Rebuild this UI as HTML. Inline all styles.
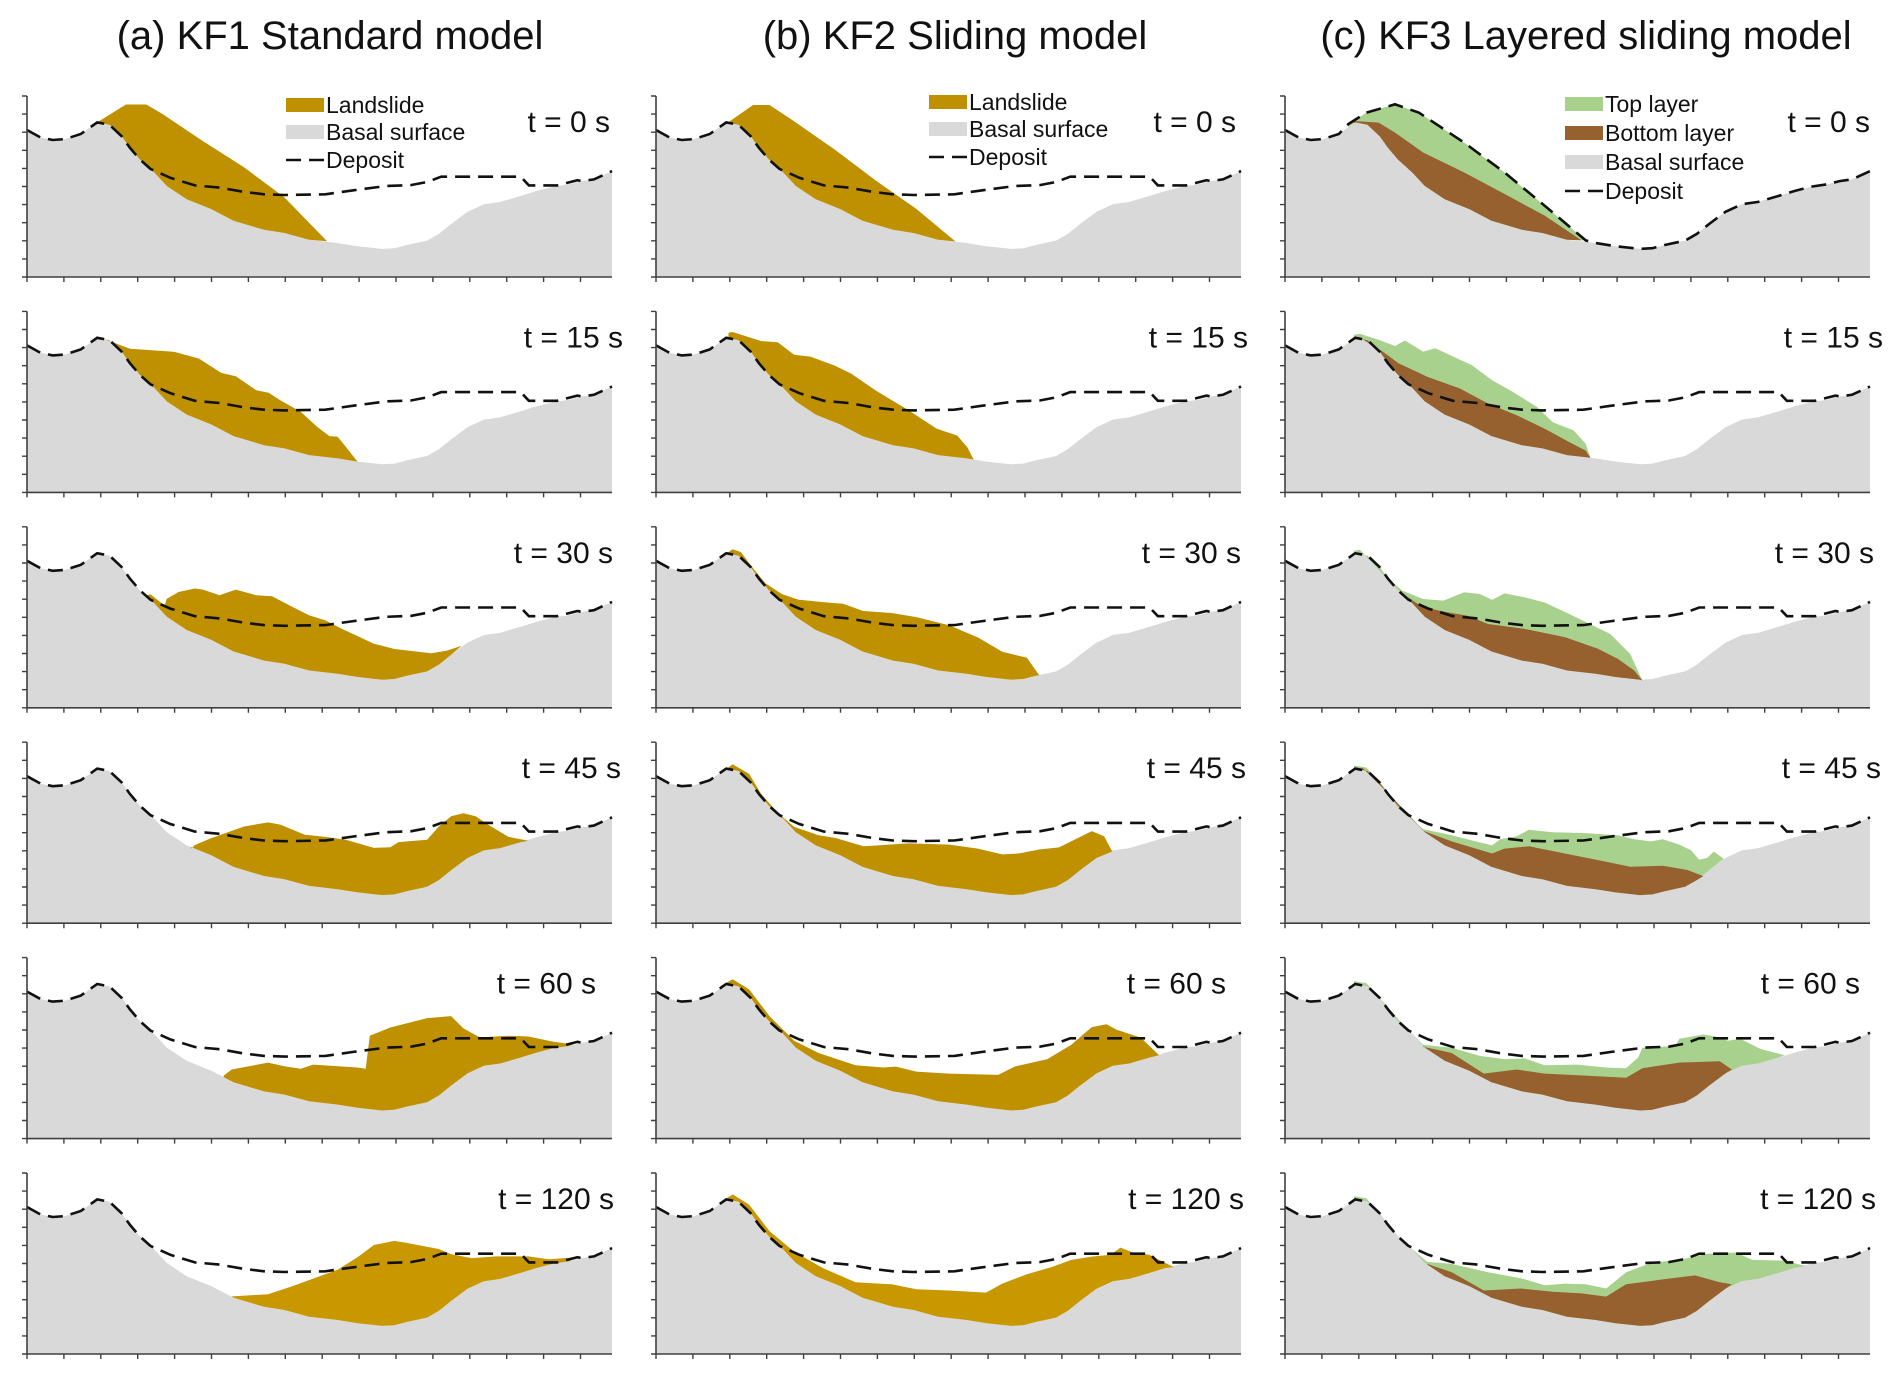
<!DOCTYPE html>
<html><head><meta charset="utf-8"><style>
body{margin:0;background:#fff;}
svg{display:block;font-family:"Liberation Sans",Arial,sans-serif;}
</style></head><body>
<svg id="fig" width="1892" height="1374" viewBox="0 0 1892 1374" xmlns="http://www.w3.org/2000/svg">
<text x="330" y="49" font-size="40" text-anchor="middle" fill="#111">(a) KF1 Standard model</text>
<text x="955" y="49" font-size="40" text-anchor="middle" fill="#111">(b) KF2 Sliding model</text>
<text x="1586" y="49" font-size="40" text-anchor="middle" fill="#111">(c) KF3 Layered sliding model</text>
<g id="panels"></g>
</svg>
<script>
// ---- data (x in % of panel width, elevation in tick units 0..10) ----
const terrainX=[0,2.3,4.4,6.5,9.2,12.0,14.1,16.2,17.6,19.3,21.8,23.9,27.3,31.5,35.3,40.5,44.0,48.2,53.1,56.5,60.7,62.8,64.9,68.4,70.4,72.5,75.3,78.1,80.9,84.4,87.1,89.9,92.7,94.8,96.9,100];
const terrainE=[8.12,7.71,7.57,7.62,7.90,8.54,8.41,7.77,7.13,6.49,5.76,5.03,4.30,3.75,3.11,2.61,2.43,2.06,1.88,1.70,1.55,1.59,1.77,2.01,2.38,2.93,3.60,4.02,4.15,4.48,4.75,4.99,5.12,5.30,5.39,5.85];
const depositX=[19.3,21.1,24.5,28.7,32.9,37.1,40.5,44.0,51.0,55.8,61.4,65.6,68.4,70.8,75.3,84.4,85.8,90.6,94.1];
const depositE=[6.49,5.97,5.48,5.06,4.94,4.70,4.57,4.53,4.57,4.79,5.03,5.08,5.25,5.54,5.54,5.54,5.06,5.06,5.35];
const times=["t = 0 s","t = 15 s","t = 30 s","t = 45 s","t = 60 s","t = 120 s"];
// KF1 landslide top edges
const a0=[[12.0,8.54],[16.9,9.53],[20.4,9.53],[23.2,9.0],[30.1,7.5],[37.1,6.06],[44.0,4.4],[51.3,1.97]];
const a15=[[12.0,8.62],[17.6,7.94],[23.2,7.81],[25.2,7.76],[29.4,7.39],[33.2,6.60],[35.7,6.42],[39.2,5.64],[41.3,5.50],[43.3,5.09],[46.8,4.45],[49.6,3.62],[51.7,3.11],[53.1,3.07],[54.5,2.52],[56.5,1.70]];
const a30=[[20.4,6.2],[21.1,6.27],[23.5,5.65],[23.9,6.03],[25.9,6.40],[28.7,6.59],[30.1,6.53],[32.9,6.22],[35.7,6.53],[39.2,6.22],[41.9,6.16],[45.4,5.57],[48.2,5.11],[51.0,4.83],[53.8,4.37],[59.3,3.54],[62.8,3.25],[69.1,3.01],[71.8,3.16],[74.3,3.43]];
const a45=[[28.0,4.1],[28.7,4.32],[31.5,4.70],[37.1,5.34],[41.2,5.57],[43.3,5.45],[47.5,4.89],[51.0,4.77],[54.5,4.61],[59.3,4.16],[62.1,4.20],[63.5,4.48],[68.4,4.61],[70.4,5.34],[72.5,5.91],[74.6,6.07],[76.7,5.91],[78.8,5.45],[82.3,4.77],[85.7,4.55]];
const a60=[[33.6,3.48],[35.0,3.82],[41.2,4.20],[44.0,4.00],[46.8,3.86],[48.9,4.09],[56.5,3.93],[57.9,3.86],[58.6,5.68],[62.1,6.14],[68.4,6.66],[72.5,6.77],[74.6,6.09],[77.4,5.59],[82.3,5.68],[85.7,5.64],[89.9,5.36],[93.4,5.2]];
const a120=[[35.0,3.18],[41.2,3.30],[45.4,3.75],[53.1,4.66],[56.5,5.34],[59.3,6.02],[62.8,6.25],[64.9,6.14],[70.4,5.80],[72.5,5.52],[76.0,5.30],[80.2,5.39],[85.7,5.39],[89.2,5.23],[94.1,5.34]];
// KF2 landslide top edges
const b0=[[12.4,8.56],[16.6,9.50],[19.4,9.50],[23.6,8.60],[30.6,7.03],[37.5,5.34],[44.5,3.76],[51.2,1.96]];
const b15=[[12.4,8.82],[13.1,8.86],[18.0,8.36],[20.8,8.30],[23.6,7.61],[26.4,7.50],[30.6,7.00],[33.4,6.55],[37.5,5.64],[43.1,4.55],[48.0,3.52],[51.5,3.14],[53.2,2.50],[54.3,1.82]];
const b30=[[11.4,8.38],[13.1,8.76],[14.5,8.61],[16.6,7.71],[18.7,6.88],[21.5,6.29],[24.3,5.98],[28.5,5.84],[32.0,5.75],[35.4,5.35],[40.3,5.24],[44.5,5.01],[50.1,4.56],[55.0,3.89],[59.2,3.10],[63.4,2.76],[65.5,1.80]];
const b45=[[11.0,8.26],[13.1,8.78],[15.9,8.26],[18.0,7.13],[20.8,6.11],[23.6,5.32],[27.8,4.86],[30.6,4.71],[35.5,4.25],[43.1,4.41],[50.1,4.34],[55.0,4.12],[59.2,3.80],[62.0,3.85],[65.5,4.07],[68.9,4.19],[71.7,4.64],[74.5,5.09],[76.6,4.80],[78.0,3.96]];
const b60=[[11.0,8.43],[13.1,8.80],[15.9,8.25],[19.4,6.77],[23.6,5.41],[27.8,4.73],[34.1,4.05],[38.9,3.93],[41.0,3.98],[44.5,3.70],[50.1,3.59],[58.5,3.52],[61.3,3.98],[66.9,4.39],[71.0,5.18],[74.5,6.16],[77.0,6.32],[78.7,6.02],[82.9,5.57],[86.0,4.61]];
const b120=[[11.0,8.37],[13.1,8.82],[15.9,8.26],[19.4,6.79],[23.6,5.66],[28.5,4.75],[34.1,3.96],[40.3,3.85],[44.5,3.58],[50.1,3.51],[56.4,3.39],[59.2,3.89],[63.4,4.41],[67.6,4.80],[71.0,5.20],[74.5,5.38],[77.7,5.48],[79.4,5.88],[81.5,5.61],[84.3,5.48],[88.5,4.80]];
// KF3 top layer (green) and bottom layer (brown) top edges
const cTop0=[[10.8,8.44],[13.9,9.08],[18.8,9.54],[22.9,9.08],[30.6,7.43],[37.5,5.78],[44.4,3.94],[51.4,2.02]];
const cBot0=[[11.8,8.62],[16.0,8.53],[18.8,7.98],[23.6,6.88],[30.6,5.78],[37.5,4.59],[44.4,3.39],[50.7,2.02]];
const cTop15=[[11.8,8.70],[12.8,8.76],[16.0,8.43],[18.8,8.09],[20.5,8.39],[22.2,8.06],[23.6,7.78],[25.7,7.96],[28.5,7.54],[31.9,7.04],[35.4,6.20],[38.9,5.56],[43.1,4.72],[45.8,3.87],[49.3,3.43],[51.4,2.69],[52.2,1.91]];
const cBot15=[[12.5,8.61],[16.7,7.78],[19.4,7.13],[24.3,6.39],[29.9,5.74],[34.7,4.91],[39.6,4.26],[44.4,3.52],[48.6,2.78],[51.4,2.31],[52.2,1.91]];
const cTop30=[[11.8,8.68],[12.8,8.73],[16.7,7.39],[20.1,6.47],[23.6,6.01],[27.1,5.92],[30.6,6.38],[33.3,6.29],[35.4,5.96],[37.5,6.32],[41.0,6.10],[44.4,5.82],[48.6,5.18],[52.1,4.63],[55.6,4.08],[59.0,2.98],[61.1,1.51]];
const cBot30=[[20.1,6.29],[23.6,5.55],[27.8,5.28],[31.2,5.09],[34.7,4.63],[41.0,4.36],[47.9,3.90],[53.5,3.26],[56.9,2.70],[59.7,2.06],[61.1,1.51]];
const cTop45=[[11.8,8.71],[13.9,8.60],[17.4,7.35],[19.4,6.33],[23.6,5.20],[28.5,4.86],[32.6,4.52],[35.4,4.30],[36.8,4.64],[39.6,4.80],[41.7,5.16],[45.8,5.02],[51.4,4.98],[56.9,4.86],[59.7,4.64],[62.5,4.52],[64.6,4.64],[67.4,4.34],[69.4,4.03],[70.8,3.51],[72.2,3.62],[73.3,3.96],[75.0,3.55]];
const cBot45=[[13.2,8.60],[18.8,6.79],[23.6,5.11],[28.5,4.52],[35.4,3.85],[37.5,4.12],[41.7,4.25],[48.6,3.80],[54.9,3.39],[59.0,3.12],[64.6,3.17],[68.8,2.94],[71.5,2.60]];
const cTop60=[[11.8,8.70],[13.9,8.59],[17.4,7.34],[19.8,6.43],[23.6,5.18],[28.5,5.02],[33.3,4.57],[37.5,4.39],[41.0,4.43],[44.4,4.05],[50.0,4.09],[54.9,3.93],[58.3,3.89],[60.4,4.50],[61.1,5.02],[66.7,5.11],[67.4,5.52],[71.5,5.75],[73.6,5.64],[75.7,5.41],[77.8,5.52],[81.3,4.95],[85.4,4.61]];
const cBot60=[[23.6,5.07],[28.5,4.73],[34.0,3.59],[39.6,3.82],[44.4,3.59],[51.4,3.48],[58.3,3.36],[61.1,3.89],[67.4,4.20],[74.3,4.27],[76.4,3.82]];
const cTop120=[[11.8,8.71],[13.9,8.60],[17.4,7.24],[19.8,6.33],[24.3,5.09],[28.5,4.98],[34.7,4.52],[40.3,4.19],[44.4,3.80],[47.9,3.89],[51.4,3.85],[54.9,3.62],[58.3,4.52],[62.5,5.02],[68.1,5.25],[72.2,5.54],[77.1,5.61],[79.9,5.20],[85.4,5.16],[88.9,4.86]];
const cBot120=[[24.3,4.98],[28.5,4.52],[34.0,3.51],[40.3,3.62],[45.8,3.44],[50.7,3.35],[54.9,3.17],[58.3,3.85],[64.6,4.12],[70.1,4.34],[74.3,3.96],[76.4,3.85]];
const colA=[a0,a15,a30,a45,a60,a120];
const colB=[b0,b15,b30,b45,b60,b120];
const colCtop=[cTop0,cTop15,cTop30,cTop45,cTop60,cTop120];
const colCbot=[cBot0,cBot15,cBot30,cBot45,cBot60,cBot120];

// ---- layout ----
const PW=585, PH=181, ROWH=215.4, TOP0=96, TICKDX=36.9;
const LEFTS=[27,656,1285];
const labelRight=[[583,596,586,594,569,587],[580,592,585,590,570,588],[585,598,589,596,575,591]];
const NS="http://www.w3.org/2000/svg";
const root=document.getElementById('panels');

function terr(x){
  for(let i=1;i<terrainX.length;i++){
    if(x<=terrainX[i]){const t=(x-terrainX[i-1])/(terrainX[i]-terrainX[i-1]);return terrainE[i-1]+t*(terrainE[i]-terrainE[i-1]);}
  }
  return terrainE[terrainE.length-1];
}
function mk(tag,attrs,parent){const e=document.createElementNS(NS,tag);for(const k in attrs)e.setAttribute(k,attrs[k]);parent.appendChild(e);return e;}

function drawPanel(col,row){
  const L=LEFTS[col], T=TOP0+row*ROWH, B=T+PH;
  const sx=x=>L+x/100*PW, sy=e=>T+(10-e)*PH/10;
  const g=mk('g',{},root);
  
  
  let pts=terrainX.map((x,i)=>sx(x).toFixed(1)+','+sy(terrainE[i]).toFixed(1));
  pts.push(sx(100)+','+B, sx(0)+','+B);
  const bs=mk('polygon',{points:pts.join(' '),fill:'#d9d9d9'},g);
  
  
  function layer(top,fill,name){
    const p=top.map(q=>sx(q[0]).toFixed(1)+','+sy(q[1]).toFixed(1));
    const x0=top[0][0], x1=top[top.length-1][0];
    for(let i=terrainX.length-1;i>=0;i--){if(terrainX[i]<x1&&terrainX[i]>x0)p.push(sx(terrainX[i]).toFixed(1)+','+sy(terrainE[i]).toFixed(1));}
    p.push(sx(x0).toFixed(1)+','+sy(terr(x0)).toFixed(1));
    const el=mk('polygon',{points:p.join(' '),fill:fill},g);
    
    
  }
  if(col<2){
    const data=(col===0?colA:colB)[row];
    layer(data,row===5?'#c99800':'#bf9000','landslide-mass');
  } else {
    layer(colCtop[row],'#a9d18e','top-layer');
    layer(colCbot[row],'#96602f','bottom-layer');
  }
  let dx=[],de=[];
  if(col===2&&row===0){
    const tp=colCtop[0];
    terrainX.forEach((x,i)=>{if(x<tp[0][0]){dx.push(x);de.push(terrainE[i]);}});
    tp.forEach(q=>{dx.push(q[0]);de.push(q[1]);});
    terrainX.forEach((x,i)=>{if(x>tp[tp.length-1][0]){dx.push(x);de.push(terrainE[i]);}});
  } else {
    terrainX.forEach((x,i)=>{if(x<depositX[0]){dx.push(x);de.push(terrainE[i]);}});
    depositX.forEach((x,i)=>{dx.push(x);de.push(depositE[i]);});
    terrainX.forEach((x,i)=>{if(x>depositX[depositX.length-1]){dx.push(x);de.push(terrainE[i]);}});
  }
  const dl=mk('polyline',{points:dx.map((x,i)=>sx(x).toFixed(1)+','+sy(de[i]).toFixed(1)).join(' '),fill:'none',stroke:'#111','stroke-width':2.6,'stroke-dasharray':'15,8'},g);
  
  
  const ax=mk('path',{d:`M${L},${T} V${B} H${L+PW}`,fill:'none',stroke:'#404040','stroke-width':1.6},g);
  
  
  let td='';
  for(let k=0;k<=10;k++){const y=T+k*PH/10;td+=`M${L-5},${y.toFixed(1)} H${L}`;}
  for(let k=0;k<=15;k++){const x=L+k*TICKDX;td+=`M${x.toFixed(1)},${B} V${B+5}`;}
  const tk=mk('path',{d:td,stroke:'#404040','stroke-width':1.4,fill:'none'},g);
  
  
  const lb=mk('text',{x:L+labelRight[col][row],y:T+36,'font-size':30,'text-anchor':'end',fill:'#111'},g);
  lb.textContent=times[row];
  
  
}
for(let c=0;c<3;c++)for(let r=0;r<6;r++)drawPanel(c,r);

function legend(x0,ys,items){
  const g=mk('g',{},root);
  
  
  items.forEach((it,i)=>{
    const y=ys[i];
    if(it[1]==='dash'){
      const l=mk('path',{d:`M${x0},${y} h15 M${x0+23},${y} h15`,stroke:'#111','stroke-width':2.6},g);
      
      
    } else {
      const r=mk('rect',{x:x0,y:y-7,width:38,height:14,fill:it[1]},g);
      
      
    }
    const t=mk('text',{x:x0+40,y:y+8,'font-size':23,fill:'#111'},g);
    t.textContent=it[0];
    
    
  });
}
legend(286,[105,132,160],[["Landslide","#bf9000"],["Basal surface","#d9d9d9"],["Deposit","dash"]]);
legend(929,[102,129,157],[["Landslide","#bf9000"],["Basal surface","#d9d9d9"],["Deposit","dash"]]);
legend(1565,[104,133,162,191],[["Top layer","#a9d18e"],["Bottom layer","#96602f"],["Basal surface","#d9d9d9"],["Deposit","dash"]]);
</script>
</body></html>
